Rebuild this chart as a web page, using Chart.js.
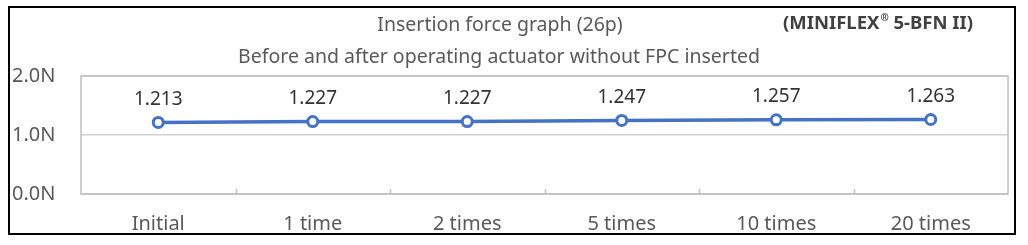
<!DOCTYPE html>
<html><head><meta charset="utf-8">
<script src="https://cdn.jsdelivr.net/npm/chart.js@4/dist/chart.umd.min.js"></script>
<style>html,body{margin:0;padding:0;background:#fff;}#wrap{width:1028px;height:245px;position:relative;}</style>
</head><body><div id="wrap"><canvas id="c" width="1028" height="245"></canvas></div>
<script>
const categories = ["Initial", "1 time", "2 times", "5 times", "10 times", "20 times"];
const forceValues = [1.213, 1.227, 1.227, 1.247, 1.257, 1.263];
const valueLabels = ["1.213", "1.227", "1.227", "1.247", "1.257", "1.263"];
const yTickLabels = ["0.0N", "1.0N", "2.0N"];
const titleText = "Insertion force graph (26p)";
const subtitleText = "Before and after operating actuator without FPC inserted";
const productParts = ["(MINIFLEX", "\u00AE", " 5-BFN II)"];

const FONT = "'Noto Sans', 'DejaVu Sans', sans-serif";

const decor = {
  id: 'decor',
  beforeDraw(chart) {
    const ctx = chart.ctx;
    ctx.save();
    ctx.fillStyle = '#fff';
    ctx.fillRect(0, 0, chart.width, chart.height);
    ctx.restore();
  },
  afterDraw(chart) {
    const ctx = chart.ctx;
    const a = chart.chartArea;
    const xs = chart.scales.x;
    ctx.save();
    // plot area border
    ctx.strokeStyle = '#bfbfbf';
    ctx.lineWidth = 1.5;
    ctx.strokeRect(a.left, a.top, a.right - a.left, a.bottom - a.top);
    // inner category tick marks
    for (let i = 0; i < categories.length - 1; i++) {
      const x = Math.round((xs.getPixelForValue(i) + xs.getPixelForValue(i + 1)) / 2) + 0.5;
      ctx.beginPath();
      ctx.moveTo(x, a.bottom);
      ctx.lineTo(x, a.bottom - 5);
      ctx.stroke();
    }
    // outer border
    ctx.strokeStyle = '#000';
    ctx.lineWidth = 2;
    ctx.strokeRect(9, 7, 1006, 227);
    // titles
    ctx.fillStyle = '#595959';
    ctx.textAlign = 'center';
    ctx.textBaseline = 'middle';
    ctx.font = '19.5px ' + FONT;
    ctx.fillText(titleText, 500, 25);
    ctx.fillText(subtitleText, 499, 57);
    // product name with superscript mark
    ctx.fillStyle = '#404040';
    ctx.textAlign = 'left';
    let px = 783;
    ctx.font = 'bold 18.5px ' + FONT;
    ctx.fillText(productParts[0], px, 24);
    px += ctx.measureText(productParts[0]).width + 1;
    ctx.font = 'bold 10px ' + FONT;
    ctx.fillText(productParts[1], px, 18);
    px += ctx.measureText(productParts[1]).width;
    ctx.font = 'bold 18.5px ' + FONT;
    ctx.fillText(productParts[2], px, 24);
    // data labels
    const meta = chart.getDatasetMeta(0);
    ctx.fillStyle = '#333333';
    ctx.font = '19px ' + FONT;
    ctx.textAlign = 'center';
    meta.data.forEach((pt, i) => {
      ctx.fillText(valueLabels[i], pt.x, pt.y - 23);
    });
    ctx.restore();
  }
};

new Chart(document.getElementById('c'), {
  type: 'line',
  data: {
    labels: categories,
    datasets: [{
      data: forceValues,
      borderColor: '#4472C4',
      borderWidth: 3.5,
      pointRadius: 5,
      pointBorderWidth: 3,
      pointBackgroundColor: '#ffffff',
      pointBorderColor: '#4472C4',
      tension: 0,
      clip: false
    }]
  },
  options: {
    responsive: false,
    animation: false,
    devicePixelRatio: 1,
    layout: { padding: { top: 76, right: 20, left: 12, bottom: 0 } },
    plugins: { legend: { display: false }, tooltip: { enabled: false }, title: { display: false } },
    scales: {
      x: {
        offset: true,
        grid: { display: false },
        border: { display: false },
        ticks: { color: '#595959', font: { family: FONT, size: 20 }, padding: 10 },
        afterFit(s) { s.height = 51; }
      },
      y: {
        min: 0, max: 2,
        ticks: {
          stepSize: 1,
          color: '#595959',
          font: { family: FONT, size: 20 },
          crossAlign: 'far',
          padding: 8,
          callback: (v) => yTickLabels[Math.round(v)]
        },
        grid: { color: '#d0d0d0', lineWidth: 1.5, drawTicks: false },
        border: { display: false },
        afterFit(s) { s.width = 69; }
      }
    }
  },
  plugins: [decor]
});
</script>
</body></html>
